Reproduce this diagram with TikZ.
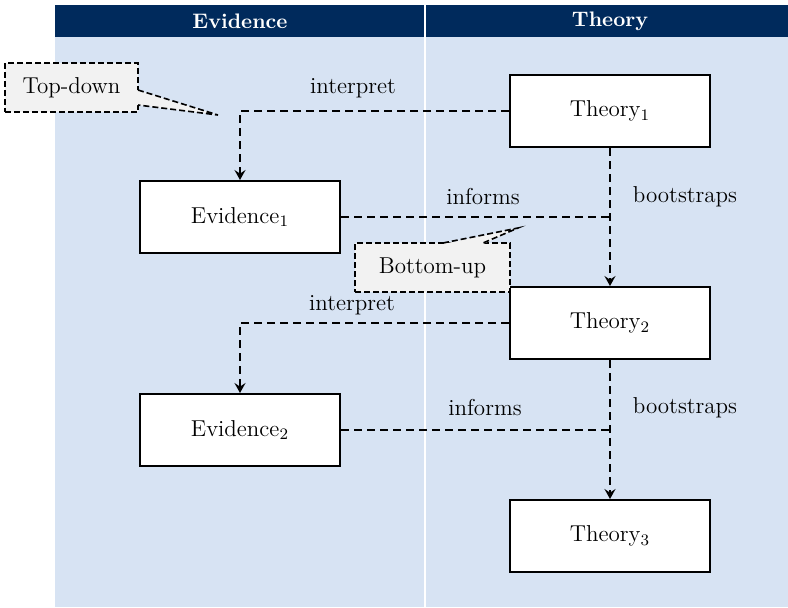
\documentclass[tikz,border=0pt]{standalone}
\usepackage{amsmath}
\usepackage{tikz}
\usetikzlibrary{positioning,arrows.meta}
\usepackage{xcolor}

\definecolor{headnavy}{RGB}{0,42,92}
\definecolor{laneblue}{RGB}{215,227,243}
\definecolor{notegray}{RGB}{242,242,242}

\tikzset{
  stagebox/.style={draw, line width=1pt, fill=white, minimum width=100pt,
    minimum height=36pt, inner sep=0pt, font=\fontsize{11.5}{13}\selectfont},
  flow/.style={line width=0.8pt, dash pattern=on 4pt off 2.5pt},
  flowarrow/.style={flow, -{Stealth[length=5pt,width=5.5pt,inset=1.8pt]}},
  edgelab/.style={inner sep=1pt, font=\fontsize{11.5}{13}\selectfont},
  notedash/.style={line width=0.8pt, dash pattern=on 3pt off 1.5pt},
  note/.style={notedash, draw, fill=notegray, minimum height=24.5pt,
    inner sep=0pt, font=\fontsize{11.5}{13}\selectfont},
  lanehead/.style={text=white, inner sep=0pt, font=\fontsize{10.5}{12}\selectfont\bfseries}
}

\begin{document}
\begin{tikzpicture}[x=0.5pt, y=-0.5pt]
  \useasboundingbox (0,0) rectangle (788,607);
  % lanes
  \fill[laneblue] (55,37) rectangle (788,607);
  \fill[headnavy] (55,5) rectangle (788,37);
  \draw[white, line width=1pt] (425,5) -- (425,607);
  \node[lanehead] (hdev) at (240,21) {Evidence};
  \node[lanehead] (hth) at (610,21) {Theory};

  % stages
  \foreach \y/\i in {111/1,323/2,536/3} {
    \node[stagebox] (th\i) at (610,\y) {Theory$_{\i}$};
  }
  \foreach \y/\i in {217/1,430/2} {
    \node[stagebox] (ev\i) at (240,\y) {Evidence$_{\i}$};
  }

  % links
  \draw[flowarrow] (th1.west) -| (ev1.north);
  \draw[flowarrow] (th2.west) -| (ev2.north);
  \draw[flowarrow] (th1.south) -- (th2.north);
  \draw[flowarrow] (th2.south) -- (th3.north);
  \draw[flow] (ev1.east) -- (ev1.east -| th1.south);
  \draw[flow] (ev2.east) -- (ev2.east -| th2.south);

  \node[edgelab] (int1) at (353,88) {interpret};
  \node[edgelab] (int2) at (352,305) {interpret};
  \node[edgelab] (inf1) at (483,197) {informs};
  \node[edgelab] (inf2) at (485,408) {informs};
  \node[edgelab] (bts1) at (685,197) {bootstraps};
  \node[edgelab] (bts2) at (685,408) {bootstraps};

  % notes
  \node[note, minimum width=66.5pt] (topdown) at (71.5,87.5) {Top-down};
  \coordinate (tdtip) at (218,115);
  \fill[notegray] (137,90) -- (tdtip) -- (137,105) -- cycle;
  \draw[notedash] (138,90) -- (tdtip) -- (138,105);

  \node[note, minimum width=77.5pt] (bottomup) at (432.5,267.5) {Bottom-up};
  \coordinate (butip) at (518,228);
  \fill[notegray] (443,244) -- (butip) -- (483,244) -- cycle;
  \draw[notedash] (443,243) -- (butip) -- (483,243);
\end{tikzpicture}
\end{document}
